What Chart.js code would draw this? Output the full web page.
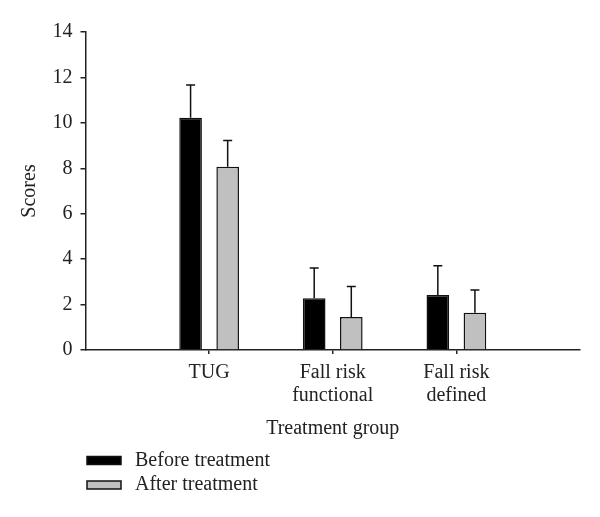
<!DOCTYPE html>
<html lang="en">
<head>
  <meta charset="UTF-8" />
  <title>Scores before and after treatment</title>
  <script src="https://cdn.jsdelivr.net/npm/chart.js"></script>
  <style>
    body { margin: 0; background: #fff; }
    #wrap { width: 600px; height: 517px; }
  </style>
</head>
<body>
  <div id="wrap"><canvas id="scoresChart" width="600" height="517"></canvas></div>

  <script>
    // x axis groups, one entry per label line
    const groups = [['TUG'], ['Fall risk', 'functional'], ['Fall risk', 'defined']];
    const seriesNames = ['Before treatment', 'After treatment'];
    const beforeMean = [10.23, 2.28, 2.42];
    const afterMean = [8.07, 1.45, 1.64];
    const beforeSD = [1.44, 1.33, 1.29];
    const afterSD = [1.15, 1.35, 1.0];
    const yTicks = [0, 2, 4, 6, 8, 10, 12, 14];

    const ink = '#222';
    Chart.defaults.font.family = '"Liberation Serif", "DejaVu Serif", serif';
    Chart.defaults.font.size = 20;
    Chart.defaults.color = ink;

    // upper error bar with a small cap
    const errorBars = {
      id: 'errorBars',
      afterDatasetsDraw(chart) {
        const { ctx } = chart;
        const y = chart.scales.y;
        ctx.save();
        ctx.strokeStyle = '#111';
        ctx.lineWidth = 1.5;
        chart.data.datasets.forEach((ds, di) => {
          chart.getDatasetMeta(di).data.forEach((bar, i) => {
            const top = y.getPixelForValue(ds.data[i].y + ds.sd[i]);
            ctx.beginPath();
            ctx.moveTo(bar.x, bar.y);
            ctx.lineTo(bar.x, top);
            ctx.moveTo(bar.x - 4.5, top);
            ctx.lineTo(bar.x + 4.5, top);
            ctx.stroke();
          });
        });
        ctx.restore();
      }
    };

    // legend stacked in two rows under the axis title
    const stackedLegend = {
      id: 'stackedLegend',
      afterDraw(chart) {
        const { ctx } = chart;
        ctx.save();
        ctx.font = '20px "Liberation Serif", serif';
        ctx.textBaseline = 'alphabetic';
        chart.data.datasets.forEach((ds, i) => {
          const cy = 460.5 + i * 24.5;
          ctx.fillStyle = ds.backgroundColor;
          ctx.fillRect(87, cy - 4, 34, 8);
          ctx.lineWidth = 1.5;
          ctx.strokeStyle = '#111';
          ctx.strokeRect(87, cy - 4, 34, 8);
          ctx.fillStyle = ink;
          ctx.fillText(ds.label, 135, cy + 5);
        });
        ctx.restore();
      }
    };

    const toPoints = arr => arr.map((v, i) => ({ x: i + 1, y: v }));

    new Chart(document.getElementById('scoresChart'), {
      type: 'bar',
      data: {
        datasets: [
          {
            label: seriesNames[0],
            data: toPoints(beforeMean),
            sd: beforeSD,
            backgroundColor: '#000',
            borderColor: '#111',
            borderWidth: 1.5
          },
          {
            label: seriesNames[1],
            data: toPoints(afterMean),
            sd: afterSD,
            backgroundColor: '#c0c0c0',
            borderColor: '#111',
            borderWidth: 1.5
          }
        ]
      },
      options: {
        responsive: false,
        animation: false,
        categoryPercentage: 0.6,
        barPercentage: 0.61,
        layout: { padding: { left: 14, right: 20, top: 32, bottom: 60 } },
        plugins: {
          legend: { display: false },
          tooltip: { enabled: false }
        },
        scales: {
          x: {
            type: 'linear',
            min: 0,
            max: groups.length + 1,
            offset: false,
            afterBuildTicks: s => { s.ticks = groups.map((g, i) => ({ value: i + 1 })); },
            afterFit: s => { s.height = 107; },
            grid: { offset: false, drawOnChartArea: false, tickLength: 4, color: ink, lineWidth: 1.5 },
            border: { color: ink, width: 1.5 },
            ticks: {
              callback: v => groups[v - 1],
              font: { size: 20, lineHeight: 1.15 },
              padding: 7,
              maxRotation: 0,
              autoSkip: false
            },
            title: {
              display: true,
              text: 'Treatment group',
              padding: { top: 4, bottom: 16 }
            }
          },
          y: {
            min: 0,
            max: 14,
            afterBuildTicks: s => { s.ticks = yTicks.map(v => ({ value: v })); },
            afterFit: s => { s.width = 71.5; },
            grid: { drawOnChartArea: false, tickLength: 5, color: ink, lineWidth: 1.5 },
            border: { color: ink, width: 1.5 },
            ticks: { padding: 8 },
            title: {
              display: true,
              text: 'Scores',
              padding: { top: 4, bottom: 0 }
            }
          }
        }
      },
      plugins: [errorBars, stackedLegend]
    });
  </script>
</body>
</html>
